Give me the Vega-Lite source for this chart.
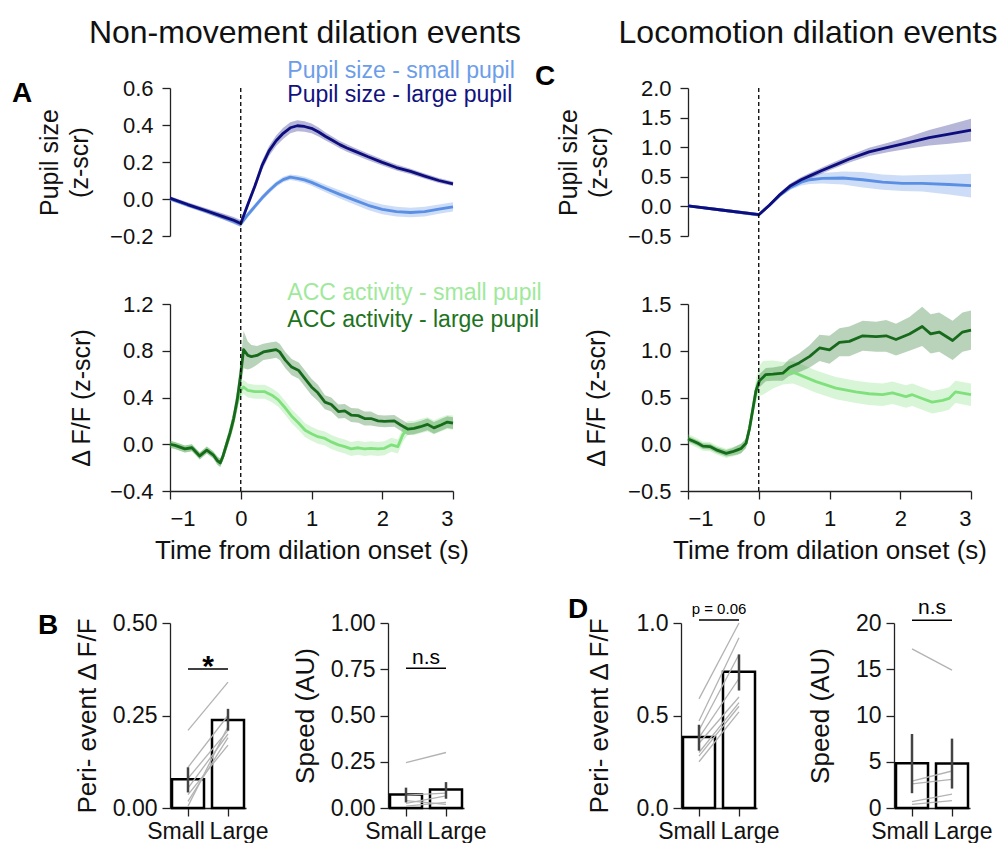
{
"$schema": "https://vega.github.io/schema/vega-lite/v6.json",
"background": "white",
"padding": {"left": 12, "top": 17, "right": 0, "bottom": 0},
"config": {
  "font": "Liberation Sans",
  "view": {"stroke": null},
  "axis": {"domainColor": "#222", "tickColor": "#222", "domainWidth": 1.3, "tickWidth": 1.3, "tickSize": 8, "labelColor": "#111", "titleColor": "#111", "titleFontWeight": "normal", "grid": false, "labelFontSize": 22, "titleFontSize": 25, "labelPadding": 9},
  "text": {"font": "Liberation Sans"}
},
"datasets": {
"ts": [
{"k":"Ap_s","t":-1,"y":0,"e":0.01},{"k":"Ap_s","t":-0.75,"y":-0.032,"e":0.012},{"k":"Ap_s","t":-0.5,"y":-0.063,"e":0.012},{"k":"Ap_s","t":-0.25,"y":-0.097,"e":0.014},{"k":"Ap_s","t":0,"y":-0.135,"e":0.016},{"k":"Ap_s","t":0.1,"y":-0.085,"e":0.015},{"k":"Ap_s","t":0.2,"y":-0.04,"e":0.015},{"k":"Ap_s","t":0.3,"y":0.005,"e":0.015},{"k":"Ap_s","t":0.4,"y":0.045,"e":0.015},{"k":"Ap_s","t":0.5,"y":0.08,"e":0.015},{"k":"Ap_s","t":0.6,"y":0.105,"e":0.015},{"k":"Ap_s","t":0.7,"y":0.118,"e":0.015},{"k":"Ap_s","t":0.8,"y":0.112,"e":0.016},{"k":"Ap_s","t":0.9,"y":0.103,"e":0.017},{"k":"Ap_s","t":1.0,"y":0.09,"e":0.018},{"k":"Ap_s","t":1.2,"y":0.057,"e":0.02},{"k":"Ap_s","t":1.4,"y":0.025,"e":0.022},{"k":"Ap_s","t":1.6,"y":-0.005,"e":0.024},{"k":"Ap_s","t":1.8,"y":-0.034,"e":0.025},{"k":"Ap_s","t":2.0,"y":-0.056,"e":0.026},{"k":"Ap_s","t":2.2,"y":-0.068,"e":0.026},{"k":"Ap_s","t":2.4,"y":-0.073,"e":0.026},{"k":"Ap_s","t":2.6,"y":-0.068,"e":0.026},{"k":"Ap_s","t":2.8,"y":-0.055,"e":0.025},{"k":"Ap_s","t":3.0,"y":-0.042,"e":0.025},
{"k":"Ap_l","t":-1,"y":0.005,"e":0.01},{"k":"Ap_l","t":-0.75,"y":-0.03,"e":0.012},{"k":"Ap_l","t":-0.5,"y":-0.062,"e":0.014},{"k":"Ap_l","t":-0.25,"y":-0.095,"e":0.016},{"k":"Ap_l","t":-0.1,"y":-0.115,"e":0.018},{"k":"Ap_l","t":0,"y":-0.132,"e":0.018},{"k":"Ap_l","t":0.1,"y":-0.03,"e":0.02},{"k":"Ap_l","t":0.2,"y":0.07,"e":0.022},{"k":"Ap_l","t":0.3,"y":0.18,"e":0.025},{"k":"Ap_l","t":0.4,"y":0.26,"e":0.027},{"k":"Ap_l","t":0.5,"y":0.315,"e":0.028},{"k":"Ap_l","t":0.6,"y":0.355,"e":0.03},{"k":"Ap_l","t":0.7,"y":0.385,"e":0.03},{"k":"Ap_l","t":0.8,"y":0.396,"e":0.03},{"k":"Ap_l","t":0.9,"y":0.392,"e":0.028},{"k":"Ap_l","t":1.0,"y":0.382,"e":0.026},{"k":"Ap_l","t":1.1,"y":0.362,"e":0.024},{"k":"Ap_l","t":1.2,"y":0.338,"e":0.022},{"k":"Ap_l","t":1.3,"y":0.316,"e":0.02},{"k":"Ap_l","t":1.4,"y":0.294,"e":0.02},{"k":"Ap_l","t":1.5,"y":0.276,"e":0.02},{"k":"Ap_l","t":1.6,"y":0.26,"e":0.019},{"k":"Ap_l","t":1.8,"y":0.228,"e":0.018},{"k":"Ap_l","t":2.0,"y":0.198,"e":0.017},{"k":"Ap_l","t":2.2,"y":0.17,"e":0.016},{"k":"Ap_l","t":2.4,"y":0.149,"e":0.015},{"k":"Ap_l","t":2.6,"y":0.124,"e":0.014},{"k":"Ap_l","t":2.8,"y":0.1,"e":0.013},{"k":"Ap_l","t":3.0,"y":0.082,"e":0.012},
{"k":"Aa_s","t":-1,"y":0,"e":0.03},{"k":"Aa_s","t":-0.93,"y":-0.01,"e":0.03},{"k":"Aa_s","t":-0.86,"y":-0.025,"e":0.03},{"k":"Aa_s","t":-0.79,"y":-0.04,"e":0.03},{"k":"Aa_s","t":-0.69,"y":-0.03,"e":0.03},{"k":"Aa_s","t":-0.58,"y":-0.1,"e":0.03},{"k":"Aa_s","t":-0.48,"y":-0.05,"e":0.03},{"k":"Aa_s","t":-0.39,"y":-0.09,"e":0.03},{"k":"Aa_s","t":-0.33,"y":-0.14,"e":0.035},{"k":"Aa_s","t":-0.29,"y":-0.16,"e":0.035},{"k":"Aa_s","t":-0.25,"y":-0.1,"e":0.04},{"k":"Aa_s","t":-0.2,"y":0.0,"e":0.04},{"k":"Aa_s","t":-0.15,"y":0.1,"e":0.04},{"k":"Aa_s","t":-0.1,"y":0.22,"e":0.05},{"k":"Aa_s","t":-0.05,"y":0.36,"e":0.05},{"k":"Aa_s","t":0,"y":0.46,"e":0.06},{"k":"Aa_s","t":0.04,"y":0.49,"e":0.06},{"k":"Aa_s","t":0.1,"y":0.46,"e":0.06},{"k":"Aa_s","t":0.2,"y":0.45,"e":0.06},{"k":"Aa_s","t":0.34,"y":0.45,"e":0.06},{"k":"Aa_s","t":0.44,"y":0.42,"e":0.06},{"k":"Aa_s","t":0.53,"y":0.38,"e":0.06},{"k":"Aa_s","t":0.63,"y":0.31,"e":0.06},{"k":"Aa_s","t":0.72,"y":0.24,"e":0.06},{"k":"Aa_s","t":0.82,"y":0.18,"e":0.06},{"k":"Aa_s","t":0.91,"y":0.12,"e":0.06},{"k":"Aa_s","t":1.0,"y":0.09,"e":0.06},{"k":"Aa_s","t":1.09,"y":0.065,"e":0.06},{"k":"Aa_s","t":1.19,"y":0.05,"e":0.06},{"k":"Aa_s","t":1.28,"y":0.02,"e":0.06},{"k":"Aa_s","t":1.38,"y":-0.005,"e":0.06},{"k":"Aa_s","t":1.47,"y":-0.02,"e":0.06},{"k":"Aa_s","t":1.56,"y":-0.04,"e":0.06},{"k":"Aa_s","t":1.66,"y":-0.03,"e":0.06},{"k":"Aa_s","t":1.75,"y":-0.04,"e":0.06},{"k":"Aa_s","t":1.84,"y":-0.035,"e":0.06},{"k":"Aa_s","t":1.94,"y":-0.04,"e":0.06},{"k":"Aa_s","t":2.03,"y":-0.035,"e":0.06},{"k":"Aa_s","t":2.13,"y":-0.005,"e":0.06},{"k":"Aa_s","t":2.22,"y":-0.02,"e":0.06},{"k":"Aa_s","t":2.29,"y":0.08,"e":0.06},{"k":"Aa_s","t":2.36,"y":0.14,"e":0.06},{"k":"Aa_s","t":2.45,"y":0.14,"e":0.06},{"k":"Aa_s","t":2.54,"y":0.155,"e":0.06},{"k":"Aa_s","t":2.64,"y":0.17,"e":0.06},{"k":"Aa_s","t":2.73,"y":0.145,"e":0.06},{"k":"Aa_s","t":2.83,"y":0.17,"e":0.06},{"k":"Aa_s","t":2.92,"y":0.19,"e":0.06},{"k":"Aa_s","t":3.0,"y":0.185,"e":0.06},
{"k":"Aa_l","t":-1,"y":0,"e":0.03},{"k":"Aa_l","t":-0.93,"y":-0.01,"e":0.03},{"k":"Aa_l","t":-0.86,"y":-0.025,"e":0.03},{"k":"Aa_l","t":-0.79,"y":-0.04,"e":0.03},{"k":"Aa_l","t":-0.69,"y":-0.03,"e":0.03},{"k":"Aa_l","t":-0.58,"y":-0.1,"e":0.03},{"k":"Aa_l","t":-0.48,"y":-0.05,"e":0.03},{"k":"Aa_l","t":-0.39,"y":-0.09,"e":0.03},{"k":"Aa_l","t":-0.33,"y":-0.14,"e":0.035},{"k":"Aa_l","t":-0.29,"y":-0.16,"e":0.035},{"k":"Aa_l","t":-0.25,"y":-0.1,"e":0.04},{"k":"Aa_l","t":-0.2,"y":0.0,"e":0.05},{"k":"Aa_l","t":-0.15,"y":0.1,"e":0.06},{"k":"Aa_l","t":-0.1,"y":0.22,"e":0.07},{"k":"Aa_l","t":-0.05,"y":0.38,"e":0.09},{"k":"Aa_l","t":0,"y":0.6,"e":0.12},{"k":"Aa_l","t":0.04,"y":0.81,"e":0.16},{"k":"Aa_l","t":0.1,"y":0.76,"e":0.12},{"k":"Aa_l","t":0.15,"y":0.75,"e":0.1},{"k":"Aa_l","t":0.23,"y":0.76,"e":0.08},{"k":"Aa_l","t":0.32,"y":0.79,"e":0.07},{"k":"Aa_l","t":0.41,"y":0.8,"e":0.07},{"k":"Aa_l","t":0.5,"y":0.81,"e":0.07},{"k":"Aa_l","t":0.55,"y":0.79,"e":0.07},{"k":"Aa_l","t":0.63,"y":0.72,"e":0.07},{"k":"Aa_l","t":0.72,"y":0.66,"e":0.07},{"k":"Aa_l","t":0.82,"y":0.63,"e":0.07},{"k":"Aa_l","t":0.91,"y":0.56,"e":0.07},{"k":"Aa_l","t":1.0,"y":0.49,"e":0.07},{"k":"Aa_l","t":1.09,"y":0.44,"e":0.07},{"k":"Aa_l","t":1.19,"y":0.36,"e":0.06},{"k":"Aa_l","t":1.28,"y":0.34,"e":0.06},{"k":"Aa_l","t":1.38,"y":0.28,"e":0.06},{"k":"Aa_l","t":1.47,"y":0.285,"e":0.06},{"k":"Aa_l","t":1.56,"y":0.25,"e":0.06},{"k":"Aa_l","t":1.66,"y":0.245,"e":0.06},{"k":"Aa_l","t":1.75,"y":0.22,"e":0.06},{"k":"Aa_l","t":1.84,"y":0.22,"e":0.06},{"k":"Aa_l","t":1.94,"y":0.2,"e":0.05},{"k":"Aa_l","t":2.03,"y":0.195,"e":0.05},{"k":"Aa_l","t":2.17,"y":0.2,"e":0.05},{"k":"Aa_l","t":2.26,"y":0.165,"e":0.05},{"k":"Aa_l","t":2.36,"y":0.13,"e":0.05},{"k":"Aa_l","t":2.45,"y":0.135,"e":0.05},{"k":"Aa_l","t":2.54,"y":0.15,"e":0.05},{"k":"Aa_l","t":2.64,"y":0.17,"e":0.05},{"k":"Aa_l","t":2.73,"y":0.14,"e":0.05},{"k":"Aa_l","t":2.83,"y":0.165,"e":0.05},{"k":"Aa_l","t":2.92,"y":0.19,"e":0.05},{"k":"Aa_l","t":3.0,"y":0.18,"e":0.05},
{"k":"Cp_s","t":-1,"y":0.01,"e":0.02},{"k":"Cp_s","t":-0.5,"y":-0.065,"e":0.025},{"k":"Cp_s","t":0,"y":-0.14,"e":0.03},{"k":"Cp_s","t":0.15,"y":0.02,"e":0.03},{"k":"Cp_s","t":0.3,"y":0.19,"e":0.035},{"k":"Cp_s","t":0.45,"y":0.32,"e":0.04},{"k":"Cp_s","t":0.6,"y":0.41,"e":0.055},{"k":"Cp_s","t":0.72,"y":0.45,"e":0.07},{"k":"Cp_s","t":0.9,"y":0.475,"e":0.09},{"k":"Cp_s","t":1.19,"y":0.48,"e":0.11},{"k":"Cp_s","t":1.47,"y":0.45,"e":0.13},{"k":"Cp_s","t":1.75,"y":0.41,"e":0.13},{"k":"Cp_s","t":2.03,"y":0.39,"e":0.13},{"k":"Cp_s","t":2.31,"y":0.39,"e":0.14},{"k":"Cp_s","t":2.69,"y":0.37,"e":0.17},{"k":"Cp_s","t":3.0,"y":0.35,"e":0.2},
{"k":"Cp_l","t":-1,"y":0.01,"e":0.02},{"k":"Cp_l","t":-0.5,"y":-0.065,"e":0.025},{"k":"Cp_l","t":0,"y":-0.14,"e":0.03},{"k":"Cp_l","t":0.15,"y":0.02,"e":0.03},{"k":"Cp_l","t":0.3,"y":0.2,"e":0.035},{"k":"Cp_l","t":0.45,"y":0.35,"e":0.04},{"k":"Cp_l","t":0.6,"y":0.45,"e":0.045},{"k":"Cp_l","t":0.73,"y":0.52,"e":0.05},{"k":"Cp_l","t":0.9,"y":0.61,"e":0.05},{"k":"Cp_l","t":1.1,"y":0.71,"e":0.055},{"k":"Cp_l","t":1.28,"y":0.8,"e":0.06},{"k":"Cp_l","t":1.56,"y":0.92,"e":0.07},{"k":"Cp_l","t":1.84,"y":1.0,"e":0.08},{"k":"Cp_l","t":2.13,"y":1.08,"e":0.1},{"k":"Cp_l","t":2.41,"y":1.16,"e":0.13},{"k":"Cp_l","t":2.69,"y":1.22,"e":0.16},{"k":"Cp_l","t":3.0,"y":1.29,"e":0.19},
{"k":"Ca_s","t":-1,"y":0.057,"e":0.05},{"k":"Ca_s","t":-0.93,"y":0.035,"e":0.05},{"k":"Ca_s","t":-0.86,"y":0.01,"e":0.05},{"k":"Ca_s","t":-0.79,"y":-0.02,"e":0.05},{"k":"Ca_s","t":-0.69,"y":-0.025,"e":0.05},{"k":"Ca_s","t":-0.6,"y":-0.06,"e":0.05},{"k":"Ca_s","t":-0.46,"y":-0.097,"e":0.05},{"k":"Ca_s","t":-0.37,"y":-0.08,"e":0.05},{"k":"Ca_s","t":-0.3,"y":-0.065,"e":0.05},{"k":"Ca_s","t":-0.25,"y":-0.045,"e":0.05},{"k":"Ca_s","t":-0.18,"y":0.01,"e":0.05},{"k":"Ca_s","t":-0.13,"y":0.17,"e":0.06},{"k":"Ca_s","t":-0.08,"y":0.39,"e":0.08},{"k":"Ca_s","t":-0.04,"y":0.57,"e":0.12},{"k":"Ca_s","t":0.01,"y":0.68,"e":0.16},{"k":"Ca_s","t":0.06,"y":0.71,"e":0.18},{"k":"Ca_s","t":0.2,"y":0.745,"e":0.15},{"k":"Ca_s","t":0.34,"y":0.76,"e":0.12},{"k":"Ca_s","t":0.48,"y":0.77,"e":0.12},{"k":"Ca_s","t":0.57,"y":0.745,"e":0.12},{"k":"Ca_s","t":0.81,"y":0.67,"e":0.12},{"k":"Ca_s","t":1.09,"y":0.6,"e":0.12},{"k":"Ca_s","t":1.37,"y":0.56,"e":0.12},{"k":"Ca_s","t":1.56,"y":0.54,"e":0.12},{"k":"Ca_s","t":1.75,"y":0.53,"e":0.12},{"k":"Ca_s","t":1.89,"y":0.55,"e":0.12},{"k":"Ca_s","t":2.08,"y":0.51,"e":0.12},{"k":"Ca_s","t":2.17,"y":0.53,"e":0.12},{"k":"Ca_s","t":2.31,"y":0.49,"e":0.12},{"k":"Ca_s","t":2.45,"y":0.45,"e":0.12},{"k":"Ca_s","t":2.6,"y":0.47,"e":0.12},{"k":"Ca_s","t":2.69,"y":0.49,"e":0.12},{"k":"Ca_s","t":2.78,"y":0.56,"e":0.12},{"k":"Ca_s","t":3.0,"y":0.53,"e":0.12},
{"k":"Ca_l","t":-1,"y":0.057,"e":0.03},{"k":"Ca_l","t":-0.93,"y":0.035,"e":0.03},{"k":"Ca_l","t":-0.86,"y":0.01,"e":0.03},{"k":"Ca_l","t":-0.79,"y":-0.02,"e":0.03},{"k":"Ca_l","t":-0.69,"y":-0.025,"e":0.03},{"k":"Ca_l","t":-0.6,"y":-0.06,"e":0.03},{"k":"Ca_l","t":-0.46,"y":-0.097,"e":0.035},{"k":"Ca_l","t":-0.37,"y":-0.08,"e":0.04},{"k":"Ca_l","t":-0.3,"y":-0.06,"e":0.05},{"k":"Ca_l","t":-0.25,"y":-0.045,"e":0.05},{"k":"Ca_l","t":-0.18,"y":0.01,"e":0.05},{"k":"Ca_l","t":-0.13,"y":0.17,"e":0.06},{"k":"Ca_l","t":-0.08,"y":0.39,"e":0.06},{"k":"Ca_l","t":-0.04,"y":0.57,"e":0.07},{"k":"Ca_l","t":0.01,"y":0.68,"e":0.07},{"k":"Ca_l","t":0.1,"y":0.745,"e":0.07},{"k":"Ca_l","t":0.2,"y":0.75,"e":0.07},{"k":"Ca_l","t":0.34,"y":0.76,"e":0.08},{"k":"Ca_l","t":0.43,"y":0.82,"e":0.09},{"k":"Ca_l","t":0.57,"y":0.87,"e":0.1},{"k":"Ca_l","t":0.72,"y":0.94,"e":0.12},{"k":"Ca_l","t":0.86,"y":1.03,"e":0.14},{"k":"Ca_l","t":1.0,"y":1.01,"e":0.15},{"k":"Ca_l","t":1.14,"y":1.09,"e":0.15},{"k":"Ca_l","t":1.28,"y":1.1,"e":0.16},{"k":"Ca_l","t":1.47,"y":1.16,"e":0.16},{"k":"Ca_l","t":1.66,"y":1.15,"e":0.16},{"k":"Ca_l","t":1.8,"y":1.16,"e":0.17},{"k":"Ca_l","t":1.94,"y":1.12,"e":0.17},{"k":"Ca_l","t":2.13,"y":1.18,"e":0.18},{"k":"Ca_l","t":2.31,"y":1.26,"e":0.21},{"k":"Ca_l","t":2.43,"y":1.18,"e":0.21},{"k":"Ca_l","t":2.55,"y":1.2,"e":0.21},{"k":"Ca_l","t":2.74,"y":1.11,"e":0.21},{"k":"Ca_l","t":2.88,"y":1.2,"e":0.21},{"k":"Ca_l","t":3.0,"y":1.22,"e":0.21}
],
"bars": [
{"pan":"B1","grp":"Small","v":0.078,"lo":0.042,"hi":0.11},{"pan":"B1","grp":"Large","v":0.238,"lo":0.209,"hi":0.268},
{"pan":"B2","grp":"Small","v":0.073,"lo":0.03,"hi":0.11},{"pan":"B2","grp":"Large","v":0.1,"lo":0.05,"hi":0.14},
{"pan":"D1","grp":"Small","v":0.384,"lo":0.31,"hi":0.45},{"pan":"D1","grp":"Large","v":0.737,"lo":0.635,"hi":0.83},
{"pan":"D2","grp":"Small","v":4.83,"lo":1.6,"hi":8.0},{"pan":"D2","grp":"Large","v":4.8,"lo":2.1,"hi":7.5}
],
"subj": [
{"pan":"B1","id":1,"grp":"Small","v":0.21},{"pan":"B1","id":1,"grp":"Large","v":0.34},
{"pan":"B1","id":2,"grp":"Small","v":0.11},{"pan":"B1","id":2,"grp":"Large","v":0.25},
{"pan":"B1","id":3,"grp":"Small","v":0.08},{"pan":"B1","id":3,"grp":"Large","v":0.21},
{"pan":"B1","id":4,"grp":"Small","v":0.054},{"pan":"B1","id":4,"grp":"Large","v":0.2},
{"pan":"B1","id":5,"grp":"Small","v":0.036},{"pan":"B1","id":5,"grp":"Large","v":0.17},
{"pan":"B1","id":6,"grp":"Small","v":0.018},{"pan":"B1","id":6,"grp":"Large","v":0.19},
{"pan":"B1","id":7,"grp":"Small","v":0.005},{"pan":"B1","id":7,"grp":"Large","v":0.22},
{"pan":"B2","id":1,"grp":"Small","v":0.245},{"pan":"B2","id":1,"grp":"Large","v":0.3},
{"pan":"B2","id":2,"grp":"Small","v":0.07},{"pan":"B2","id":2,"grp":"Large","v":0.08},
{"pan":"B2","id":3,"grp":"Small","v":0.025},{"pan":"B2","id":3,"grp":"Large","v":0.065},
{"pan":"B2","id":4,"grp":"Small","v":0.04},{"pan":"B2","id":4,"grp":"Large","v":0.02},
{"pan":"B2","id":5,"grp":"Small","v":0.01},{"pan":"B2","id":5,"grp":"Large","v":0.03},
{"pan":"D1","id":1,"grp":"Small","v":0.59},{"pan":"D1","id":1,"grp":"Large","v":1.0},
{"pan":"D1","id":2,"grp":"Small","v":0.47},{"pan":"D1","id":2,"grp":"Large","v":0.92},
{"pan":"D1","id":3,"grp":"Small","v":0.42},{"pan":"D1","id":3,"grp":"Large","v":0.83},
{"pan":"D1","id":4,"grp":"Small","v":0.38},{"pan":"D1","id":4,"grp":"Large","v":0.7},
{"pan":"D1","id":5,"grp":"Small","v":0.35},{"pan":"D1","id":5,"grp":"Large","v":0.6},
{"pan":"D1","id":6,"grp":"Small","v":0.3},{"pan":"D1","id":6,"grp":"Large","v":0.57},
{"pan":"D1","id":7,"grp":"Small","v":0.28},{"pan":"D1","id":7,"grp":"Large","v":0.55},
{"pan":"D1","id":8,"grp":"Small","v":0.25},{"pan":"D1","id":8,"grp":"Large","v":0.52},
{"pan":"D2","id":1,"grp":"Small","v":17.2},{"pan":"D2","id":1,"grp":"Large","v":14.9},
{"pan":"D2","id":2,"grp":"Small","v":2.9},{"pan":"D2","id":2,"grp":"Large","v":4.0},
{"pan":"D2","id":3,"grp":"Small","v":2.6},{"pan":"D2","id":3,"grp":"Large","v":3.1},
{"pan":"D2","id":4,"grp":"Small","v":0.7},{"pan":"D2","id":4,"grp":"Large","v":1.5},
{"pan":"D2","id":5,"grp":"Small","v":0.4},{"pan":"D2","id":5,"grp":"Large","v":0.8}
],
"sig": [
{"pan":"B1","grp":"Small","v":0.376},{"pan":"B1","grp":"Large","v":0.376},
{"pan":"B2","grp":"Small","v":0.755},{"pan":"B2","grp":"Large","v":0.755},
{"pan":"D1","grp":"Small","v":1.016},{"pan":"D1","grp":"Large","v":1.016},
{"pan":"D2","grp":"Small","v":20.3},{"pan":"D2","grp":"Large","v":20.3}
]
},
"spacing": 33,
"vconcat": [
{
"bounds": "flush",
"spacing": 235,
"hconcat": [
{
"width": 283, "height": 403,
"resolve": {"scale": {"y": "independent"}},
"layer": [
{"layer": [
 {"data": {"name": "ts"}, "transform": [{"filter": {"field": "k", "oneOf": ["Ap_s", "Ap_l"]}}],
  "mark": {"type": "errorband", "opacity": 0.3},
  "encoding": {"x": {"field": "t", "type": "quantitative", "scale": {"domain": [-1, 3], "nice": false, "zero": false}},
   "y": {"field": "y", "type": "quantitative", "title": ["Pupil size", "(z-scr)"], "scale": {"domain": [-0.2, 0.6], "range": [148, 0], "nice": false, "zero": false}, "axis": {"orient": "left", "values": [-0.2, 0, 0.2, 0.4, 0.6], "format": ".1f", "title": ["Pupil size", "(z-scr)"], "titlePadding": 17, "titleLineHeight": 30}},
   "yError": {"field": "e"},
   "color": {"field": "k", "type": "nominal", "scale": {"domain": ["Ap_s","Ap_l","Aa_s","Aa_l","Cp_s","Cp_l","Ca_s","Ca_l"], "range": ["#5a8fe3","#0d0d7d","#7fe07c","#17691b","#5a8fe3","#0d0d7d","#7fe07c","#17691b"]}, "legend": null}}},
 {"data": {"name": "ts"}, "transform": [{"filter": "datum.k == 'Ap_s'"}],
  "mark": {"type": "line", "strokeWidth": 2.8, "strokeJoin": "round"},
  "encoding": {"x": {"field": "t", "type": "quantitative", "scale": {"domain": [-1, 3], "nice": false, "zero": false}, "axis": {"values": [-1, 0, 1, 2, 3], "format": "d", "title": "Time from dilation onset (s)", "titleFontSize": 26, "titlePadding": 8}},
   "y": {"field": "y", "type": "quantitative", "scale": {"domain": [-0.2, 0.6], "range": [148, 0], "nice": false, "zero": false}},
   "color": {"field": "k", "type": "nominal", "legend": null}}},
 {"data": {"name": "ts"}, "transform": [{"filter": "datum.k == 'Ap_l'"}],
  "mark": {"type": "line", "strokeWidth": 2.8, "strokeJoin": "round"},
  "encoding": {"x": {"field": "t", "type": "quantitative"},
   "y": {"field": "y", "type": "quantitative"},
   "color": {"field": "k", "type": "nominal", "legend": null}}},
 {"data": {"values": [{}]}, "mark": {"type": "text", "text": "Non-movement dilation events", "fontSize": 32, "align": "center", "baseline": "middle", "color": "#111"},
  "encoding": {"x": {"datum": 0.908, "type": "quantitative"}, "y": {"datum": 0.897, "type": "quantitative"}}},
 {"data": {"values": [{}]}, "mark": {"type": "text", "text": "A", "fontSize": 28, "fontWeight": "bold", "align": "left", "baseline": "middle", "color": "#000"},
  "encoding": {"x": {"datum": -3.233, "type": "quantitative"}, "y": {"datum": 0.57, "type": "quantitative"}}},
 {"data": {"values": [{}]}, "mark": {"type": "text", "text": "Pupil size - small pupil", "fontSize": 23, "align": "left", "baseline": "middle", "color": "#6c9de9"},
  "encoding": {"x": {"datum": 0.658, "type": "quantitative"}, "y": {"datum": 0.694, "type": "quantitative"}}},
 {"data": {"values": [{}]}, "mark": {"type": "text", "text": "Pupil size - large pupil", "fontSize": 23, "align": "left", "baseline": "middle", "color": "#111180"},
  "encoding": {"x": {"datum": 0.658, "type": "quantitative"}, "y": {"datum": 0.562, "type": "quantitative"}}}
]},
{"layer": [
 {"data": {"name": "ts"}, "transform": [{"filter": {"field": "k", "oneOf": ["Aa_s", "Aa_l"]}}],
  "mark": {"type": "errorband", "opacity": 0.3},
  "encoding": {"x": {"field": "t", "type": "quantitative"},
   "y": {"field": "y", "type": "quantitative", "title": "Δ F/F (z-scr)", "scale": {"domain": [-0.4, 1.2], "range": [403, 216], "nice": false, "zero": false}, "axis": {"orient": "left", "values": [-0.4, 0, 0.4, 0.8, 1.2], "format": ".1f", "title": "Δ F/F (z-scr)", "titlePadding": 15}},
   "yError": {"field": "e"},
   "color": {"field": "k", "type": "nominal", "legend": null}}},
 {"data": {"name": "ts"}, "transform": [{"filter": "datum.k == 'Aa_s'"}],
  "mark": {"type": "line", "strokeWidth": 2.8, "strokeJoin": "round"},
  "encoding": {"x": {"field": "t", "type": "quantitative"},
   "y": {"field": "y", "type": "quantitative", "scale": {"domain": [-0.4, 1.2], "range": [403, 216], "nice": false, "zero": false}},
   "color": {"field": "k", "type": "nominal", "legend": null}}},
 {"data": {"name": "ts"}, "transform": [{"filter": "datum.k == 'Aa_l'"}],
  "mark": {"type": "line", "strokeWidth": 2.8, "strokeJoin": "round"},
  "encoding": {"x": {"field": "t", "type": "quantitative"},
   "y": {"field": "y", "type": "quantitative"},
   "color": {"field": "k", "type": "nominal", "legend": null}}},
 {"data": {"values": [{}]}, "mark": {"type": "text", "text": "ACC activity - small pupil", "fontSize": 23, "align": "left", "baseline": "middle", "color": "#9fe99c"},
  "encoding": {"x": {"datum": 0.658, "type": "quantitative"}, "y": {"datum": 1.29, "type": "quantitative"}}},
 {"data": {"values": [{}]}, "mark": {"type": "text", "text": "ACC activity - large pupil", "fontSize": 23, "align": "left", "baseline": "middle", "color": "#1d7321"},
  "encoding": {"x": {"datum": 0.658, "type": "quantitative"}, "y": {"datum": 1.06, "type": "quantitative"}}}
]},
{"data": {"values": [{}]}, "mark": {"type": "rule", "color": "#000", "strokeDash": [4, 3], "strokeWidth": 1.3},
 "encoding": {"x": {"datum": 0, "type": "quantitative"}}}
]
},
{
"width": 283, "height": 403,
"resolve": {"scale": {"y": "independent"}},
"layer": [
{"layer": [
 {"data": {"name": "ts"}, "transform": [{"filter": {"field": "k", "oneOf": ["Cp_s", "Cp_l"]}}],
  "mark": {"type": "errorband", "opacity": 0.3},
  "encoding": {"x": {"field": "t", "type": "quantitative", "scale": {"domain": [-1, 3], "nice": false, "zero": false}},
   "y": {"field": "y", "type": "quantitative", "title": ["Pupil size", "(z-scr)"], "scale": {"domain": [-0.5, 2.0], "range": [148, 0], "nice": false, "zero": false}, "axis": {"orient": "left", "values": [-0.5, 0, 0.5, 1, 1.5, 2], "format": ".1f", "title": ["Pupil size", "(z-scr)"], "titlePadding": 16, "titleLineHeight": 30}},
   "yError": {"field": "e"},
   "color": {"field": "k", "type": "nominal", "scale": {"domain": ["Ap_s","Ap_l","Aa_s","Aa_l","Cp_s","Cp_l","Ca_s","Ca_l"], "range": ["#5a8fe3","#0d0d7d","#7fe07c","#17691b","#5a8fe3","#0d0d7d","#7fe07c","#17691b"]}, "legend": null}}},
 {"data": {"name": "ts"}, "transform": [{"filter": "datum.k == 'Cp_s'"}],
  "mark": {"type": "line", "strokeWidth": 2.8, "strokeJoin": "round"},
  "encoding": {"x": {"field": "t", "type": "quantitative", "scale": {"domain": [-1, 3], "nice": false, "zero": false}, "axis": {"values": [-1, 0, 1, 2, 3], "format": "d", "title": "Time from dilation onset (s)", "titleFontSize": 26, "titlePadding": 8}},
   "y": {"field": "y", "type": "quantitative", "scale": {"domain": [-0.5, 2.0], "range": [148, 0], "nice": false, "zero": false}},
   "color": {"field": "k", "type": "nominal", "legend": null}}},
 {"data": {"name": "ts"}, "transform": [{"filter": "datum.k == 'Cp_l'"}],
  "mark": {"type": "line", "strokeWidth": 2.8, "strokeJoin": "round"},
  "encoding": {"x": {"field": "t", "type": "quantitative"},
   "y": {"field": "y", "type": "quantitative"},
   "color": {"field": "k", "type": "nominal", "legend": null}}},
 {"data": {"values": [{}]}, "mark": {"type": "text", "text": "Locomotion dilation events", "fontSize": 32, "align": "center", "baseline": "middle", "color": "#111"},
  "encoding": {"x": {"datum": 0.696, "type": "quantitative"}, "y": {"datum": 2.929, "type": "quantitative"}}},
 {"data": {"values": [{}]}, "mark": {"type": "text", "text": "C", "fontSize": 28, "fontWeight": "bold", "align": "left", "baseline": "middle", "color": "#000"},
  "encoding": {"x": {"datum": -3.163, "type": "quantitative"}, "y": {"datum": 2.186, "type": "quantitative"}}}
]},
{"layer": [
 {"data": {"name": "ts"}, "transform": [{"filter": {"field": "k", "oneOf": ["Ca_s", "Ca_l"]}}],
  "mark": {"type": "errorband", "opacity": 0.3},
  "encoding": {"x": {"field": "t", "type": "quantitative"},
   "y": {"field": "y", "type": "quantitative", "title": "Δ F/F (z-scr)", "scale": {"domain": [-0.5, 1.5], "range": [403, 216], "nice": false, "zero": false}, "axis": {"orient": "left", "values": [-0.5, 0, 0.5, 1, 1.5], "format": ".1f", "title": "Δ F/F (z-scr)", "titlePadding": 18}},
   "yError": {"field": "e"},
   "color": {"field": "k", "type": "nominal", "legend": null}}},
 {"data": {"name": "ts"}, "transform": [{"filter": "datum.k == 'Ca_s'"}],
  "mark": {"type": "line", "strokeWidth": 2.8, "strokeJoin": "round"},
  "encoding": {"x": {"field": "t", "type": "quantitative"},
   "y": {"field": "y", "type": "quantitative", "scale": {"domain": [-0.5, 1.5], "range": [403, 216], "nice": false, "zero": false}},
   "color": {"field": "k", "type": "nominal", "legend": null}}},
 {"data": {"name": "ts"}, "transform": [{"filter": "datum.k == 'Ca_l'"}],
  "mark": {"type": "line", "strokeWidth": 2.8, "strokeJoin": "round"},
  "encoding": {"x": {"field": "t", "type": "quantitative"},
   "y": {"field": "y", "type": "quantitative"},
   "color": {"field": "k", "type": "nominal", "legend": null}}}
]},
{"data": {"values": [{}]}, "mark": {"type": "rule", "color": "#000", "strokeDash": [4, 3], "strokeWidth": 1.3},
 "encoding": {"x": {"datum": 0, "type": "quantitative"}}}
]
}
]
},
{
"bounds": "flush",
"spacing": 0,
"hconcat": [
{
"width": 218, "height": 185,
"layer": [
 {"data": {"name": "bars"}, "transform": [{"filter": "datum.pan == 'B1'"}],
  "mark": {"type": "bar", "fill": "white", "stroke": "#000", "strokeWidth": 2.5},
  "encoding": {"x": {"field": "grp", "type": "nominal", "sort": ["Small", "Large"], "scale": {"domain": ["Small", "Large"], "range": [0, 76], "paddingInner": 0.2, "paddingOuter": 0.05}, "axis": {"title": null, "labelAngle": 0, "labelFontSize": 23, "labelPadding": 4, "labelOffset": {"condition": {"test": "datum.value === 'Small'", "value": -12}, "value": 11}}},
   "y": {"field": "v", "type": "quantitative", "scale": {"domain": [0, 0.5], "nice": false}, "axis": {"values": [0, 0.25, 0.5], "format": ".2f", "title": "Peri- event Δ F/F", "titleFontSize": 26, "titlePadding": 12, "labelFontSize": 23, "labelPadding": 5}}}},
 {"data": {"name": "subj"}, "transform": [{"filter": "datum.pan == 'B1'"}],
  "mark": {"type": "line", "color": "#b3b3b3", "strokeWidth": 1.3},
  "encoding": {"x": {"field": "grp", "type": "nominal"}, "y": {"field": "v", "type": "quantitative"}, "detail": {"field": "id"}}},
 {"data": {"name": "bars"}, "transform": [{"filter": "datum.pan == 'B1'"}],
  "mark": {"type": "rule", "color": "#444", "strokeWidth": 2.5},
  "encoding": {"x": {"field": "grp", "type": "nominal"}, "y": {"field": "lo", "type": "quantitative"}, "y2": {"field": "hi"}}},
 {"data": {"name": "sig"}, "transform": [{"filter": "datum.pan == 'B1'"}],
  "mark": {"type": "line", "color": "#000", "strokeWidth": 1.5},
  "encoding": {"x": {"field": "grp", "type": "nominal"}, "y": {"field": "v", "type": "quantitative"}}},
 {"data": {"values": [{}]}, "mark": {"type": "text", "text": "*", "fontSize": 30, "fontWeight": "bold", "align": "center", "baseline": "middle", "dx": 20, "color": "#000"},
  "encoding": {"x": {"datum": "Small", "type": "nominal"}, "y": {"datum": 0.382, "type": "quantitative"}}},
 {"data": {"values": [{}]}, "mark": {"type": "text", "text": "B", "fontSize": 28, "fontWeight": "bold", "align": "left", "baseline": "alphabetic", "dx": -150, "color": "#000"},
  "encoding": {"x": {"datum": "Small", "type": "nominal"}, "y": {"datum": 0.47, "type": "quantitative"}}}
]
},
{
"width": 293, "height": 185,
"layer": [
 {"data": {"name": "bars"}, "transform": [{"filter": "datum.pan == 'B2'"}],
  "mark": {"type": "bar", "fill": "white", "stroke": "#000", "strokeWidth": 2.5},
  "encoding": {"x": {"field": "grp", "type": "nominal", "sort": ["Small", "Large"], "scale": {"domain": ["Small", "Large"], "range": [0, 76], "paddingInner": 0.2, "paddingOuter": 0.05}, "axis": {"title": null, "labelAngle": 0, "labelFontSize": 23, "labelPadding": 4, "labelOffset": {"condition": {"test": "datum.value === 'Small'", "value": -12}, "value": 11}}},
   "y": {"field": "v", "type": "quantitative", "scale": {"domain": [0, 1], "nice": false}, "axis": {"values": [0, 0.25, 0.5, 0.75, 1], "format": ".2f", "title": "Speed (AU)", "titleFontSize": 26, "titlePadding": 12, "labelFontSize": 23, "labelPadding": 5}}}},
 {"data": {"name": "subj"}, "transform": [{"filter": "datum.pan == 'B2'"}],
  "mark": {"type": "line", "color": "#b3b3b3", "strokeWidth": 1.3},
  "encoding": {"x": {"field": "grp", "type": "nominal"}, "y": {"field": "v", "type": "quantitative"}, "detail": {"field": "id"}}},
 {"data": {"name": "bars"}, "transform": [{"filter": "datum.pan == 'B2'"}],
  "mark": {"type": "rule", "color": "#444", "strokeWidth": 2.5},
  "encoding": {"x": {"field": "grp", "type": "nominal"}, "y": {"field": "lo", "type": "quantitative"}, "y2": {"field": "hi"}}},
 {"data": {"name": "sig"}, "transform": [{"filter": "datum.pan == 'B2'"}],
  "mark": {"type": "line", "color": "#000", "strokeWidth": 1.5},
  "encoding": {"x": {"field": "grp", "type": "nominal"}, "y": {"field": "v", "type": "quantitative"}}},
 {"data": {"values": [{}]}, "mark": {"type": "text", "text": "n.s", "fontSize": 21, "align": "center", "baseline": "alphabetic", "dx": 20, "color": "#000"},
  "encoding": {"x": {"datum": "Small", "type": "nominal"}, "y": {"datum": 0.778, "type": "quantitative"}}}
]
},
{
"width": 213, "height": 185,
"layer": [
 {"data": {"name": "bars"}, "transform": [{"filter": "datum.pan == 'D1'"}],
  "mark": {"type": "bar", "fill": "white", "stroke": "#000", "strokeWidth": 2.5},
  "encoding": {"x": {"field": "grp", "type": "nominal", "sort": ["Small", "Large"], "scale": {"domain": ["Small", "Large"], "range": [0, 76], "paddingInner": 0.2, "paddingOuter": 0.05}, "axis": {"title": null, "labelAngle": 0, "labelFontSize": 23, "labelPadding": 4, "labelOffset": {"condition": {"test": "datum.value === 'Small'", "value": -12}, "value": 11}}},
   "y": {"field": "v", "type": "quantitative", "scale": {"domain": [0, 1], "nice": false}, "axis": {"values": [0, 0.5, 1], "format": ".1f", "title": "Peri- event Δ F/F", "titleFontSize": 26, "titlePadding": 24, "labelFontSize": 23, "labelPadding": 5}}}},
 {"data": {"name": "subj"}, "transform": [{"filter": "datum.pan == 'D1'"}],
  "mark": {"type": "line", "color": "#b3b3b3", "strokeWidth": 1.3},
  "encoding": {"x": {"field": "grp", "type": "nominal"}, "y": {"field": "v", "type": "quantitative"}, "detail": {"field": "id"}}},
 {"data": {"name": "bars"}, "transform": [{"filter": "datum.pan == 'D1'"}],
  "mark": {"type": "rule", "color": "#444", "strokeWidth": 2.5},
  "encoding": {"x": {"field": "grp", "type": "nominal"}, "y": {"field": "lo", "type": "quantitative"}, "y2": {"field": "hi"}}},
 {"data": {"name": "sig"}, "transform": [{"filter": "datum.pan == 'D1'"}],
  "mark": {"type": "line", "color": "#000", "strokeWidth": 1.5},
  "encoding": {"x": {"field": "grp", "type": "nominal"}, "y": {"field": "v", "type": "quantitative"}}},
 {"data": {"values": [{}]}, "mark": {"type": "text", "text": "p = 0.06", "fontSize": 15, "align": "center", "baseline": "alphabetic", "dx": 20, "color": "#000"},
  "encoding": {"x": {"datum": "Small", "type": "nominal"}, "y": {"datum": 1.049, "type": "quantitative"}}},
 {"data": {"values": [{}]}, "mark": {"type": "text", "text": "D", "fontSize": 28, "fontWeight": "bold", "align": "left", "baseline": "alphabetic", "dx": -131, "color": "#000"},
  "encoding": {"x": {"datum": "Small", "type": "nominal"}, "y": {"datum": 1.027, "type": "quantitative"}}}
]
},
{
"width": 80, "height": 185,
"layer": [
 {"data": {"name": "bars"}, "transform": [{"filter": "datum.pan == 'D2'"}],
  "mark": {"type": "bar", "fill": "white", "stroke": "#000", "strokeWidth": 2.5},
  "encoding": {"x": {"field": "grp", "type": "nominal", "sort": ["Small", "Large"], "scale": {"domain": ["Small", "Large"], "range": [0, 76], "paddingInner": 0.2, "paddingOuter": 0.05}, "axis": {"title": null, "labelAngle": 0, "labelFontSize": 23, "labelPadding": 4, "labelOffset": {"condition": {"test": "datum.value === 'Small'", "value": -12}, "value": 11}}},
   "y": {"field": "v", "type": "quantitative", "scale": {"domain": [0, 20], "nice": false}, "axis": {"values": [0, 5, 10, 15, 20], "format": "d", "title": "Speed (AU)", "titleFontSize": 26, "titlePadding": 22, "labelFontSize": 23, "labelPadding": 5}}}},
 {"data": {"name": "subj"}, "transform": [{"filter": "datum.pan == 'D2'"}],
  "mark": {"type": "line", "color": "#b3b3b3", "strokeWidth": 1.3},
  "encoding": {"x": {"field": "grp", "type": "nominal"}, "y": {"field": "v", "type": "quantitative"}, "detail": {"field": "id"}}},
 {"data": {"name": "bars"}, "transform": [{"filter": "datum.pan == 'D2'"}],
  "mark": {"type": "rule", "color": "#444", "strokeWidth": 2.5},
  "encoding": {"x": {"field": "grp", "type": "nominal"}, "y": {"field": "lo", "type": "quantitative"}, "y2": {"field": "hi"}}},
 {"data": {"name": "sig"}, "transform": [{"filter": "datum.pan == 'D2'"}],
  "mark": {"type": "line", "color": "#000", "strokeWidth": 1.5},
  "encoding": {"x": {"field": "grp", "type": "nominal"}, "y": {"field": "v", "type": "quantitative"}}},
 {"data": {"values": [{}]}, "mark": {"type": "text", "text": "n.s", "fontSize": 21, "align": "center", "baseline": "alphabetic", "dx": 20, "color": "#000"},
  "encoding": {"x": {"datum": "Small", "type": "nominal"}, "y": {"datum": 20.97, "type": "quantitative"}}}
]
}
]
}
]
}
